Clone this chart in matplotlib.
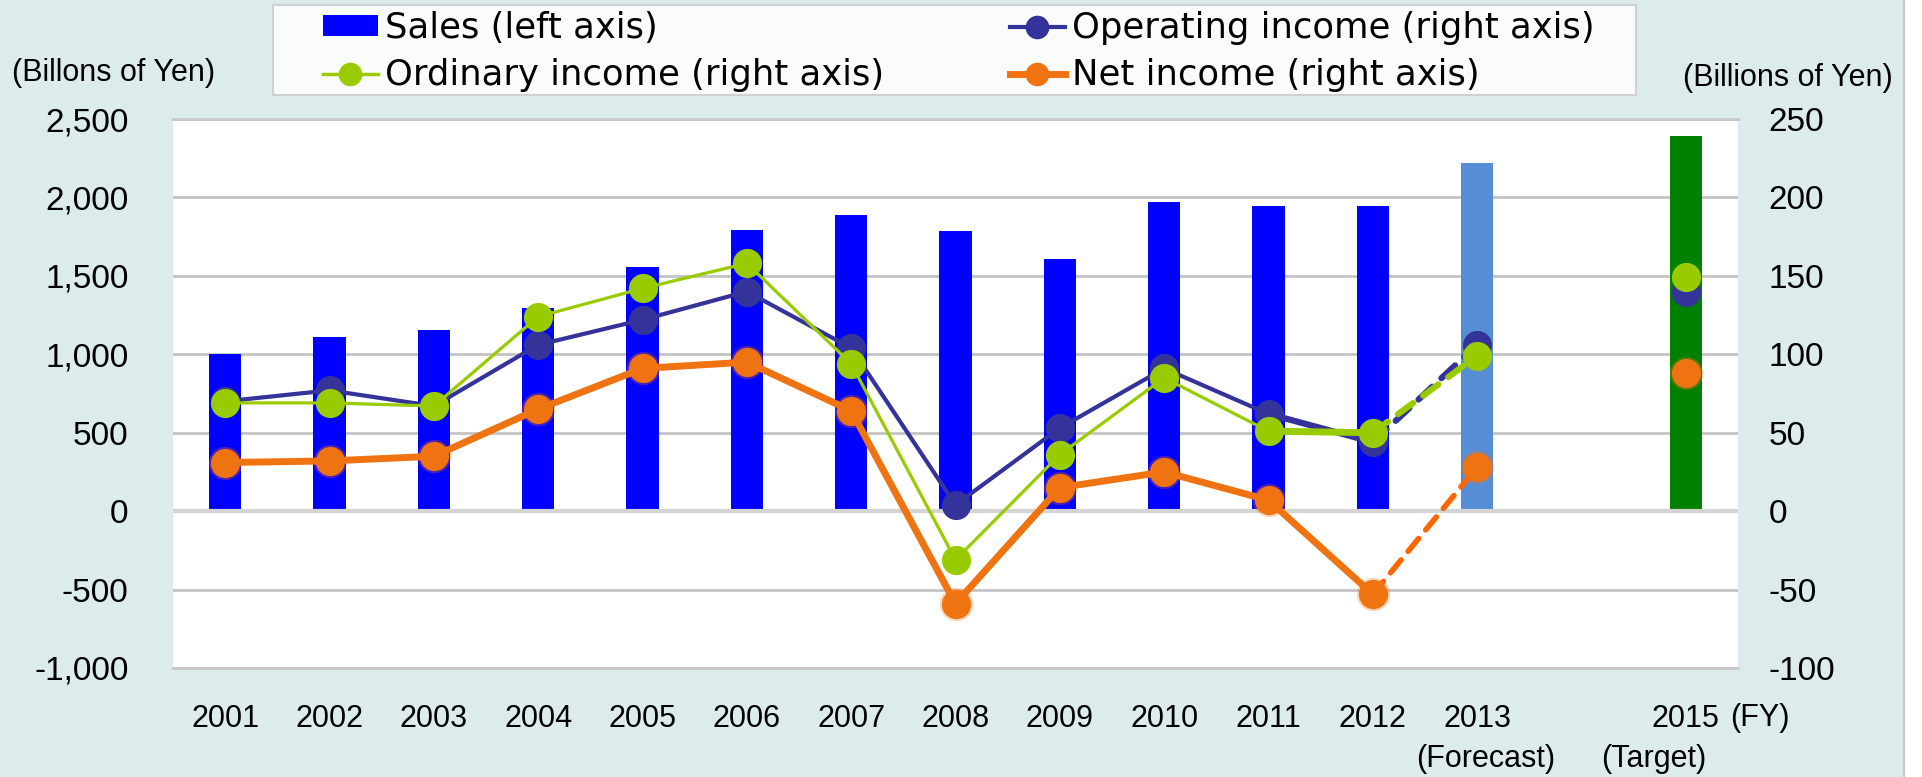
import matplotlib.pyplot as plt
from matplotlib.lines import Line2D
from matplotlib.patches import Patch, Rectangle

plt.rcParams['font.family'] = ['Liberation Sans', 'DejaVu Sans']
plt.rcParams['axes.unicode_minus'] = False

# fiscal years (2014 left empty on the axis)
fiscal_years = [2001, 2002, 2003, 2004, 2005, 2006, 2007, 2008, 2009, 2010, 2011, 2012, 2013, 2015]
year_labels = ['2001', '2002', '2003', '2004', '2005', '2006', '2007', '2008',
               '2009', '2010', '2011', '2012', '2013', '2015']

# billions of yen
sales = [1005, 1110, 1155, 1295, 1555, 1790, 1885, 1785, 1610, 1970, 1945, 1945, 2220, 2390]
operating_income = [70, 77, 67, 106, 122, 140, 104, 4, 53, 91, 62, 44, 106, 140]
ordinary_income = [69, 69, 67, 124, 142, 158, 94, -31, 36, 85, 51, 50, 99, 149]
net_income = [31, 32, 35, 65, 91, 95, 64, -59, 15, 25, 7, -53, 28, 88]

bar_colors = ['#0000ff'] * 12 + ['#558ed5', '#008000']

W, H = 1922, 777
fig = plt.figure(figsize=(W / 100, H / 100), dpi=100)
fig.patch.set_facecolor('#dcebeb')

# white strip and border on the right edge of the panel
fig.add_artist(Rectangle((1905 / W, 0), 17 / W, 1, transform=fig.transFigure,
                         facecolor='white', edgecolor='none'))
fig.add_artist(Line2D([1904 / W, 1904 / W], [0, 1], transform=fig.transFigure,
                      color='#c8c8c8', lw=1.5))

ax = fig.add_axes([173 / W, 1 - 668 / H, (1738 - 173) / W, (668 - 119) / H])
ax.set_facecolor('white')
x = [y - 2001 for y in fiscal_years]

ax.bar(x, sales, width=0.31, color=bar_colors, zorder=2)
ax.set_xlim(-0.5, 14.5)
ax.set_ylim(-1000, 2500)
ax.set_yticks(range(-1000, 2501, 500))
ax.set_yticklabels([f'{v:,}' for v in range(-1000, 2501, 500)])
ax.yaxis.grid(True, color='#c4c4c4', lw=2, zorder=0)
ax.set_axisbelow(True)
ax.axhline(0, color='#d4d4d4', lw=3, zorder=2.5)
ax.set_xticks(x)
ax.set_xticklabels(year_labels)
ax.tick_params(axis='y', length=0, pad=32, labelsize=24)
ax.tick_params(axis='x', length=0, pad=26, labelsize=22)
for s in ['left', 'right']:
    ax.spines[s].set_visible(False)
for s in ['top', 'bottom']:
    ax.spines[s].set_color('#c8c8c8')
    ax.spines[s].set_linewidth(2)

ax2 = ax.twinx()
ax2.set_ylim(-100, 250)
ax2.set_yticks(range(-100, 251, 50))
ax2.tick_params(axis='y', length=0, pad=22, labelsize=24)
for s in ax2.spines.values():
    s.set_visible(False)

# values, line colour, dashed colour, line width, 2011-12 width, dashed width
series = [
    (net_income, '#f07312', '#ff6600', 5, 5, 4),
    (operating_income, '#333399', '#333399', 3, 4.5, 4.5),
    (ordinary_income, '#99cc00', '#99cc00', 2.3, 5, 4.5),
]
for vals, col, dcol, lw, lw_last, dlw in series:
    ax2.plot(x[:11], vals[:11], color=col, lw=lw, zorder=3, solid_capstyle='round')
    ax2.plot(x[10:12], vals[10:12], color=col, lw=lw_last, zorder=3, solid_capstyle='round')
    ax2.plot(x[11:13], vals[11:13], color=dcol, lw=dlw, ls=(0, (3, 2)), zorder=3,
             dash_capstyle='round')
    if col == '#f07312':
        # soft halo around the net income markers
        ax2.plot(x, vals, ls='none', marker='o', ms=24, color=col, alpha=0.3,
                 mec='none', zorder=3)
    ax2.plot(x, vals, ls='none', marker='o', ms=21, color=col, mec='none', zorder=3)

# sub-labels under the last two categories
ax.text(x[12] + 0.08, -0.165, '(Forecast)', transform=ax.get_xaxis_transform(),
        ha='center', va='center', fontsize=22)
ax.text(x[13] - 0.31, -0.165, '(Target)', transform=ax.get_xaxis_transform(),
        ha='center', va='center', fontsize=22)
fig.text(1760 / W, 1 - 718 / H, '(FY)', ha='center', va='center', fontsize=22)

fig.text(12 / W, 1 - 73 / H, '(Billons of Yen)', ha='left', va='center', fontsize=22)
fig.text(1683 / W, 1 - 78 / H, '(Billions of Yen)', ha='left', va='center', fontsize=22)

# legend frame
fig.add_artist(Rectangle((273 / W, 1 - 95 / H), (1636 - 273) / W, 90 / H,
                         transform=fig.transFigure, facecolor='#fafcfc',
                         edgecolor='#d0d0d0', lw=1.5))

h_sales = Patch(facecolor='#0000ff', edgecolor='none')
h_ord = Line2D([], [], color='#99cc00', lw=2.5, marker='o', ms=17, mec='none')
h_op = Line2D([], [], color='#333399', lw=3, marker='o', ms=17, mec='none')
h_net = Line2D([], [], color='#f07312', lw=5, marker='o', ms=17, mec='none')

leg_kw = dict(frameon=False, prop={'family': 'DejaVu Sans', 'size': 25.5},
              handlelength=1.55, handleheight=0.5, handletextpad=0.2,
              labelspacing=0.38, borderpad=0, borderaxespad=0, loc='upper left')
leg1 = fig.legend([h_sales, h_ord], ['Sales (left axis)', 'Ordinary income (right axis)'],
                  bbox_to_anchor=(323 / W, 1 - 11 / H), **leg_kw)
leg2 = fig.legend([h_op, h_net], ['Operating income (right axis)', 'Net income (right axis)'],
                  bbox_to_anchor=(1010 / W, 1 - 11 / H), **leg_kw)

fig.savefig('out.png', dpi=100, facecolor=fig.get_facecolor())
